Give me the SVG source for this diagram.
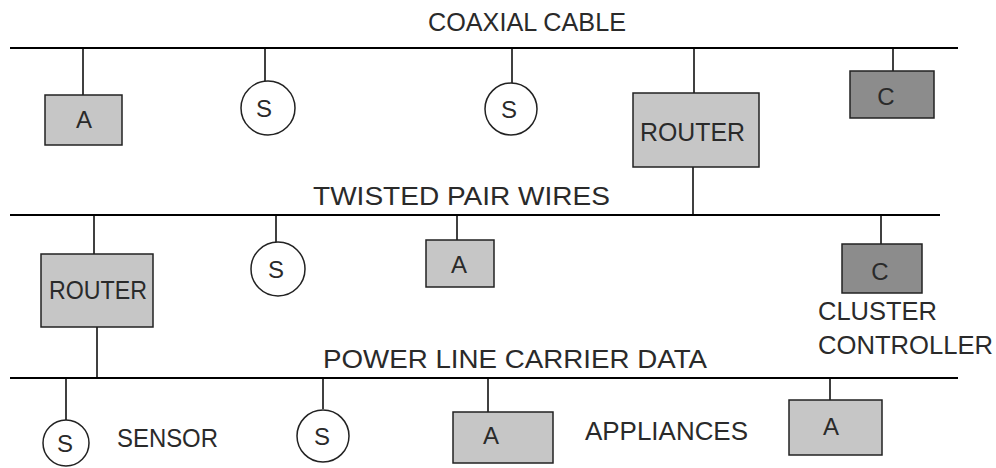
<svg xmlns="http://www.w3.org/2000/svg" width="996" height="468" viewBox="0 0 996 468">
<style>
.bus{stroke:#000;stroke-width:2;fill:none}
.con{stroke:#000;stroke-width:1.5;fill:none}
.box{fill:#c6c6c6;stroke:#222;stroke-width:1.5}
.dark{fill:#8c8c8c;stroke:#222;stroke-width:1.5}
.sen{fill:#fff;stroke:#222;stroke-width:1.5}
text{font-family:"Liberation Sans",Arial,sans-serif;fill:#2a2a2a;font-size:25px}
.in{text-anchor:middle;font-size:24px}
</style>
<rect width="996" height="468" fill="#fff"/>
<g id="connectors">
<line class="bus" x1="10" y1="48" x2="958" y2="48"/>
<line class="bus" x1="10" y1="215" x2="940" y2="215"/>
<line class="bus" x1="10" y1="378" x2="958" y2="378"/>
<line class="con" x1="83" y1="48" x2="83" y2="95"/>
<line class="con" x1="265" y1="48" x2="265" y2="81"/>
<line class="con" x1="512" y1="48" x2="512" y2="83"/>
<line class="con" x1="694" y1="48" x2="694" y2="93"/>
<line class="con" x1="693" y1="167" x2="693" y2="215"/>
<line class="con" x1="893" y1="48" x2="893" y2="71"/>
<line class="con" x1="94" y1="215" x2="94" y2="254"/>
<line class="con" x1="97" y1="327" x2="97" y2="378"/>
<line class="con" x1="276" y1="215" x2="276" y2="242"/>
<line class="con" x1="457" y1="215" x2="457" y2="240"/>
<line class="con" x1="881" y1="215" x2="881" y2="244"/>
<line class="con" x1="66" y1="378" x2="66" y2="421"/>
<line class="con" x1="323" y1="378" x2="323" y2="409"/>
<line class="con" x1="488" y1="378" x2="488" y2="412"/>
<line class="con" x1="830" y1="378" x2="830" y2="400"/>
</g>
<g id="labels">
<text x="428" y="31" textLength="198" lengthAdjust="spacingAndGlyphs">COAXIAL CABLE</text>
<text x="313" y="205" textLength="297" lengthAdjust="spacingAndGlyphs">TWISTED PAIR WIRES</text>
<text x="323" y="368" textLength="384" lengthAdjust="spacingAndGlyphs">POWER LINE CARRIER DATA</text>
<text x="818" y="320" textLength="119" lengthAdjust="spacingAndGlyphs">CLUSTER</text>
<text x="818" y="354" textLength="175" lengthAdjust="spacingAndGlyphs">CONTROLLER</text>
<text x="117" y="447" textLength="101" lengthAdjust="spacingAndGlyphs">SENSOR</text>
<text x="585" y="440" textLength="163" lengthAdjust="spacingAndGlyphs">APPLIANCES</text>
</g>
<g id="coax-a"><rect class="box" x="45" y="95" width="77" height="50"/><text class="in" x="84" y="128">A</text></g>
<g id="coax-s1"><circle class="sen" cx="268" cy="108" r="27"/><text class="in" x="264" y="117">S</text></g>
<g id="coax-s2"><circle class="sen" cx="511" cy="109" r="26"/><text class="in" x="509" y="118">S</text></g>
<g id="router1"><rect class="box" x="633" y="93" width="126" height="74"/><text x="640" y="141" textLength="105" lengthAdjust="spacingAndGlyphs">ROUTER</text></g>
<g id="coax-c"><rect class="dark" x="850" y="71" width="84" height="47"/><text class="in" x="886" y="105">C</text></g>
<g id="router2"><rect class="box" x="41" y="254" width="112" height="73"/><text x="49" y="299" textLength="98" lengthAdjust="spacingAndGlyphs">ROUTER</text></g>
<g id="tp-s"><circle class="sen" cx="278" cy="269" r="27"/><text class="in" x="276" y="278">S</text></g>
<g id="tp-a"><rect class="box" x="426" y="240" width="68" height="47"/><text class="in" x="459" y="273">A</text></g>
<g id="tp-c"><rect class="dark" x="842" y="244" width="80" height="49"/><text class="in" x="880" y="280">C</text></g>
<g id="pl-s1"><circle class="sen" cx="66" cy="443" r="23"/><text class="in" x="65" y="452">S</text></g>
<g id="pl-s2"><circle class="sen" cx="323" cy="436" r="26"/><text class="in" x="322" y="445">S</text></g>
<g id="pl-a1"><rect class="box" x="453" y="412" width="100" height="51"/><text class="in" x="491" y="444">A</text></g>
<g id="pl-a2"><rect class="box" x="789" y="400" width="93" height="55"/><text class="in" x="831" y="435">A</text></g>
</svg>
